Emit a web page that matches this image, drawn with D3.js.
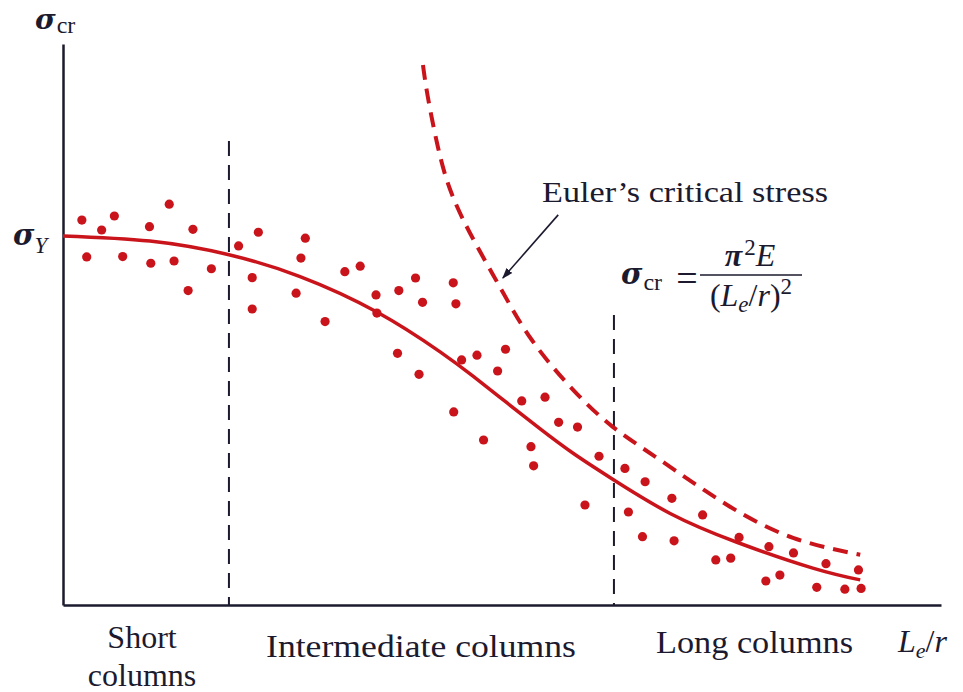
<!DOCTYPE html>
<html>
<head>
<meta charset="utf-8">
<script src="https://cdn.jsdelivr.net/npm/d3@7"></script>
<style>
  html, body { margin: 0; padding: 0; background: #fff; }
  svg text { font-family: "Liberation Serif", "Times New Roman", serif; fill: #1b1a2e; }
  svg .sym { font-family: "DejaVu Serif", serif; font-style: italic; font-weight: bold; }
</style>
</head>
<body>
<svg id="chart" width="963" height="692"></svg>
<script>
// slenderness Le/r (arbitrary units) and stress as a fraction of sigma_Y
const testX = [4.3, 8.8, 11.7, 19.7, 24.2, 29.6, 5.4, 13.6, 20.0, 25.3, 33.8, 28.5, 40.0, 44.5, 43.1, 43.1,
  55.2, 54.2, 53.1, 59.7, 64.2, 67.7, 80.3, 76.5, 81.9, 88.9, 71.3, 71.5, 89.5, 76.2, 81.1, 90.8,
  94.3, 100.8, 99.0, 89.0, 95.8, 104.5, 109.8, 112.9, 117.2, 106.6, 107.2, 122.1, 128.0, 118.9,
  132.6, 128.8, 132.0, 138.7, 139.2, 145.7, 148.7, 152.1, 154.0, 160.8, 160.1, 163.3, 166.4,
  173.8, 171.7, 178.1, 181.2, 181.8];
const testY = [1.043, 1.016, 1.054, 1.025, 1.086, 1.018, 0.943, 0.944, 0.926, 0.932, 0.911, 0.852, 0.973, 1.010, 0.887, 0.802,
  0.994, 0.940, 0.845, 0.768, 0.903, 0.918, 0.886, 0.852, 0.820, 0.873, 0.840, 0.791, 0.816, 0.682, 0.625, 0.664,
  0.677, 0.693, 0.634, 0.523, 0.447, 0.553, 0.563, 0.495, 0.482, 0.429, 0.377, 0.403, 0.370, 0.271,
  0.334, 0.252, 0.185, 0.289, 0.174, 0.244, 0.122, 0.127, 0.183, 0.158, 0.065, 0.081, 0.141,
  0.112, 0.048, 0.043, 0.095, 0.045];

// fitted design curve (solid)
const fitX = [0, 19.8, 37.8, 54.0, 71.5, 85.9, 93.4, 101.1, 108.7, 116.2, 125.3, 138.3, 153.5, 170.8, 181.6];
const fitY = [1.000, 0.986, 0.949, 0.890, 0.794, 0.686, 0.620, 0.548, 0.477, 0.411, 0.340, 0.248, 0.170, 0.100, 0.068];

// Euler critical stress (dashed)
const eulerX = [82.0, 83.1, 85.4, 88.2, 92.7, 99.5, 106.8, 116.2, 125.3, 136.0, 151.3, 166.3, 181.6];
const eulerY = [1.463, 1.377, 1.241, 1.125, 1.008, 0.862, 0.718, 0.583, 0.482, 0.393, 0.271, 0.182, 0.136];

// region boundaries: Le/r value and top of the dashed marker line
const boundX = [37.8, 125.5];
const boundTop = [1.257, 0.786];

const svg = d3.select("#chart");
const red = "#c9141b", ink = "#1b1a2e";

const x = d3.scaleLinear().domain([0, 200]).range([63, 941]);
const y = d3.scaleLinear().domain([0, 1.52]).range([605, 44]);

// axes, no ticks
svg.append("g")
  .attr("transform", `translate(0,${y(0)})`)
  .call(d3.axisBottom(x).tickValues([]).tickSizeOuter(0))
  .select(".domain").attr("stroke", ink).attr("stroke-width", 2.5);
svg.append("g")
  .attr("transform", `translate(${x(0)},0)`)
  .call(d3.axisLeft(y).tickValues([]).tickSizeOuter(0))
  .select(".domain").attr("stroke", ink).attr("stroke-width", 2.5);

// boundaries
svg.selectAll("line.bound")
  .data(boundX)
  .join("line")
  .attr("class", "bound")
  .attr("x1", d => x(d)).attr("x2", d => x(d))
  .attr("y1", (d, i) => y(boundTop[i])).attr("y2", y(0))
  .attr("stroke", ink).attr("stroke-width", 2)
  .attr("stroke-dasharray", "15,9");

const smooth = d3.line().x(d => x(d[0])).y(d => y(d[1])).curve(d3.curveNatural);

svg.append("path")
  .datum(d3.zip(eulerX, eulerY))
  .attr("d", smooth)
  .attr("fill", "none").attr("stroke", red).attr("stroke-width", 4)
  .attr("stroke-dasharray", "15,9");

svg.append("path")
  .datum(d3.zip(fitX, fitY))
  .attr("d", smooth)
  .attr("fill", "none").attr("stroke", red).attr("stroke-width", 3.5);

svg.selectAll("circle")
  .data(d3.zip(testX, testY))
  .join("circle")
  .attr("cx", d => x(d[0])).attr("cy", d => y(d[1]))
  .attr("r", 4.6).attr("fill", red);

// arrow to the Euler curve
svg.append("defs").append("marker")
  .attr("id", "head").attr("viewBox", "0 0 10 10")
  .attr("refX", 9).attr("refY", 5)
  .attr("markerWidth", 11).attr("markerHeight", 11)
  .attr("markerUnits", "userSpaceOnUse")
  .attr("orient", "auto")
  .append("path").attr("d", "M0,1.5 L10,5 L0,8.5 z").attr("fill", ink);
svg.append("line")
  .attr("x1", x(112.8)).attr("y1", y(1.057))
  .attr("x2", x(100.2)).attr("y2", y(0.886))
  .attr("stroke", ink).attr("stroke-width", 1.6)
  .attr("marker-end", "url(#head)");

// labels
const t1 = svg.append("text").attr("x", 35).attr("y", 29).attr("font-size", 28);
t1.append("tspan").attr("class", "sym").text("σ");
t1.append("tspan").attr("font-size", 24).attr("dy", 4).attr("dx", 1).text("cr");

const t2 = svg.append("text").attr("x", 13).attr("y", 245).attr("font-size", 29);
t2.append("tspan").attr("class", "sym").text("σ");
t2.append("tspan").attr("font-size", 23).attr("font-style", "italic").attr("dy", 8).text("Y");

svg.append("text").attr("x", 542).attr("y", 202).attr("font-size", 30)
  .attr("textLength", 286).attr("lengthAdjust", "spacingAndGlyphs")
  .text("Euler’s critical stress");

// formula
const f1 = svg.append("text").attr("x", 621).attr("y", 284).attr("font-size", 29);
f1.append("tspan").attr("class", "sym").text("σ");
f1.append("tspan").attr("font-size", 24).attr("dy", 6).attr("dx", 1).text("cr");
svg.append("text").attr("x", 687).attr("y", 291).attr("font-size", 38)
  .attr("text-anchor", "middle").text("=");
svg.append("line").attr("x1", 700).attr("x2", 802).attr("y1", 275).attr("y2", 275)
  .attr("stroke", ink).attr("stroke-width", 1.6);
const num = svg.append("text").attr("x", 750).attr("y", 266).attr("font-size", 32)
  .attr("text-anchor", "middle");
num.append("tspan").attr("font-style", "italic").attr("font-weight", "bold").text("π");
num.append("tspan").attr("font-size", 23).attr("dy", -11).attr("dx", 2).text("2");
num.append("tspan").attr("font-style", "italic").attr("dy", 11).text("E");
const den = svg.append("text").attr("x", 751).attr("y", 306).attr("font-size", 32)
  .attr("text-anchor", "middle");
den.append("tspan").text("(");
den.append("tspan").attr("font-style", "italic").text("L");
den.append("tspan").attr("font-style", "italic").attr("font-size", 23).attr("dy", 6).text("e");
den.append("tspan").attr("dy", -6).text("/");
den.append("tspan").attr("font-style", "italic").text("r");
den.append("tspan").text(")");
den.append("tspan").attr("font-size", 23).attr("dy", -12).text("2");

// bottom region labels
svg.append("text").attr("x", 142).attr("y", 648).attr("font-size", 32)
  .attr("text-anchor", "middle").text("Short");
svg.append("text").attr("x", 142).attr("y", 686).attr("font-size", 32)
  .attr("text-anchor", "middle").text("columns");
svg.append("text").attr("x", 266).attr("y", 657).attr("font-size", 32)
  .attr("textLength", 310).attr("lengthAdjust", "spacingAndGlyphs")
  .text("Intermediate columns");
svg.append("text").attr("x", 656).attr("y", 653).attr("font-size", 32)
  .attr("textLength", 197).attr("lengthAdjust", "spacingAndGlyphs")
  .text("Long columns");
const xl = svg.append("text").attr("x", 898).attr("y", 652).attr("font-size", 32);
xl.append("tspan").attr("font-style", "italic").text("L");
xl.append("tspan").attr("font-style", "italic").attr("font-size", 22).attr("dy", 6).text("e");
xl.append("tspan").attr("dy", -6).text("/");
xl.append("tspan").attr("font-style", "italic").text("r");
</script>
</body>
</html>
